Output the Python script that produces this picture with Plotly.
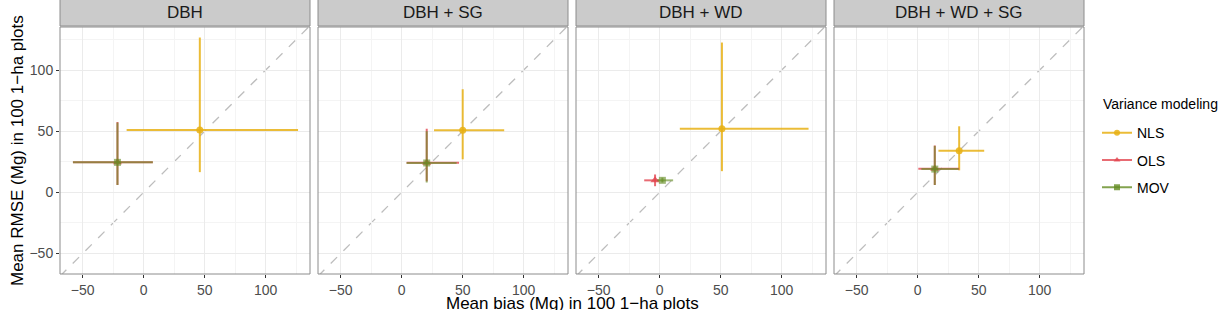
import plotly.graph_objects as go

# ---------------- data ----------------
panels = ["DBH", "DBH + SG", "DBH + WD", "DBH + WD + SG"]
methods = ["NLS", "OLS", "MOV"]

nls_bias = [46, 50, 51, 34]
nls_rmse = [51, 50.7, 52, 34]
nls_bias_lo = [-14, 26.5, 16.5, 17]
nls_bias_hi = [126.5, 84, 122, 54.5]
nls_rmse_lo = [16.5, 27, 17.3, 18]
nls_rmse_hi = [126.6, 84.3, 122.5, 54]

ols_bias = [-21.5, 20.5, -3.8, 14]
ols_rmse = [24.5, 24.2, 9.8, 19.3]
ols_bias_lo = [-58, 4, -12.7, 0.5]
ols_bias_hi = [7.5, 47, -0.5, 34]
ols_rmse_lo = [6, 9, 5, 6]
ols_rmse_hi = [57.5, 52, 14.6, 38.3]

mov_bias = [-21.5, 20.5, 2.2, 14]
mov_rmse = [24.5, 24, 9.8, 19]
mov_bias_lo = [-58, 4, -2, 3]
mov_bias_hi = [7.5, 45, 11, 33.5]
mov_rmse_lo = [6, 8, 8, 6]
mov_rmse_hi = [57, 50, 12, 38]

x_ticks = [-50, 0, 50, 100]
y_ticks = [-50, 0, 50, 100]
x_minor = [-25, 25, 75, 125]
y_minor = [-25, 25, 75, 125]

series = {
    "NLS": (nls_bias, nls_rmse, nls_bias_lo, nls_bias_hi, nls_rmse_lo, nls_rmse_hi),
    "OLS": (ols_bias, ols_rmse, ols_bias_lo, ols_bias_hi, ols_rmse_lo, ols_rmse_hi),
    "MOV": (mov_bias, mov_rmse, mov_bias_lo, mov_bias_hi, mov_rmse_lo, mov_rmse_hi),
}

# ---------------- styles ----------------
colors = {"NLS": "rgba(231,176,20,0.85)", "OLS": "rgba(226,70,80,0.8)", "MOV": "rgba(100,140,35,0.62)"}
legend_colors = {"NLS": "rgba(231,176,20,0.85)", "OLS": "rgba(226,70,80,0.8)", "MOV": "rgba(100,140,35,0.8)"}
symbols = {"NLS": "circle", "OLS": "triangle-up", "MOV": "square"}
XR = [-68.6, 136.3]
YR = [-66.8, 135.2]
FONT = "Liberation Sans, Arial, sans-serif"

W, H = 1227, 310
L, R, T, B = 60, 143, 27, 34
pw, gap = 250, 8
plot_w = W - L - R
plot_h = H - T - B

def py(pix):
    """pixel row -> paper y"""
    return (T + plot_h - pix) / plot_h

def px(pix):
    """pixel column -> paper x"""
    return (pix - L) / plot_w

fig = go.Figure()

def fmt(v):
    return str(v).replace("-", "\u2212")

for i, p in enumerate(panels):
    xa = "x" if i == 0 else f"x{i+1}"
    ya = "y" if i == 0 else f"y{i+1}"
    left = (i * (pw + gap)) / plot_w
    right = (i * (pw + gap) + pw) / plot_w
    axkey = "xaxis" if i == 0 else f"xaxis{i+1}"
    aykey = "yaxis" if i == 0 else f"yaxis{i+1}"
    fig.layout[axkey] = dict(
        domain=[left, right], range=XR, anchor=ya, tickvals=x_ticks,
        ticktext=[fmt(v) for v in x_ticks], showgrid=True, gridcolor="#ebebeb", gridwidth=1,
        zeroline=False, ticks="outside", ticklen=3, tickcolor="#333333",
        tickfont=dict(size=14, color="#4d4d4d", family=FONT),
        minor=dict(tickvals=x_minor, showgrid=True, gridcolor="#f4f4f4", gridwidth=0.5, ticks=""),
        showline=False, mirror=False,
    )
    fig.layout[aykey] = dict(
        domain=[0, 1], range=YR, anchor=xa, tickvals=y_ticks,
        ticktext=[fmt(v) for v in y_ticks], showgrid=True, gridcolor="#ebebeb", gridwidth=1,
        zeroline=False, ticks="outside" if i == 0 else "", ticklen=3, tickcolor="#333333",
        showticklabels=(i == 0),
        tickfont=dict(size=14, color="#4d4d4d", family=FONT),
        minor=dict(tickvals=y_minor, showgrid=True, gridcolor="#f4f4f4", gridwidth=0.5, ticks=""),
        showline=False,
    )
    # diagonal y = x
    fig.add_shape(type="line", xref=xa, yref=ya, x0=XR[0], y0=XR[0], x1=XR[1], y1=XR[1],
                  line=dict(color="#bdbdbd", width=1.3, dash="dash"), layer="below")
    # panel border
    fig.add_shape(type="rect", xref="paper", yref="paper", x0=left, x1=right, y0=0, y1=1,
                  line=dict(color="#8c8c8c", width=1), fillcolor="rgba(0,0,0,0)", layer="above")
    # strip
    fig.add_shape(type="rect", xref="paper", yref="paper", x0=left, x1=right,
                  y0=1 + 1 / plot_h, y1=1 + (T + 2) / plot_h,
                  line=dict(color="#8c8c8c", width=1), fillcolor="#cbcbcb")
    fig.add_annotation(text=p, xref="paper", yref="paper", x=(left + right) / 2,
                       y=1 + (T - 12) / plot_h, showarrow=False, xanchor="center", yanchor="middle",
                       font=dict(size=17, color="#1a1a1a", family=FONT))

    for m in methods:
        bx, ry, blo, bhi, rlo, rhi = series[m]
        fig.add_trace(go.Scatter(
            x=[bx[i]], y=[ry[i]], xaxis=xa, yaxis=ya, mode="markers",
            marker=dict(color=colors[m], size=7 if m != "OLS" else 8, symbol=symbols[m]),
            error_x=dict(type="data", symmetric=False, array=[bhi[i] - bx[i]],
                         arrayminus=[bx[i] - blo[i]], color=colors[m], thickness=2, width=0),
            error_y=dict(type="data", symmetric=False, array=[rhi[i] - ry[i]],
                         arrayminus=[ry[i] - rlo[i]], color=colors[m], thickness=2, width=0),
            showlegend=False, hoverinfo="skip",
        ))

# legend entries
for m in methods:
    fig.add_trace(go.Scatter(x=[None], y=[None], mode="lines+markers", name=m,
                             legendgroup=m,
                             line=dict(color=legend_colors[m], width=2),
                             marker=dict(color=legend_colors[m], size=6, symbol=symbols[m])))

fig.add_annotation(text="Variance modeling", xref="paper", yref="paper",
                   x=px(1101), y=py(105), showarrow=False, xanchor="left", yanchor="middle",
                   font=dict(size=14, color="#000000", family=FONT))
fig.add_annotation(text="Mean bias (Mg) in 100 1\u2212ha plots", xref="paper", yref="paper",
                   x=0.5, y=py(306), showarrow=False,
                   xanchor="center", yanchor="middle",
                   font=dict(size=17, color="#000000", family=FONT))
fig.add_annotation(text="Mean RMSE (Mg) in 100 1\u2212ha plots", xref="paper", yref="paper",
                   x=px(17.5), y=0.5, showarrow=False, textangle=-90,
                   xanchor="center", yanchor="middle",
                   font=dict(size=17, color="#000000", family=FONT))

fig.update_layout(
    width=W, height=H, margin=dict(l=L, r=R, t=T, b=B),
    paper_bgcolor="white", plot_bgcolor="white",
    font=dict(family=FONT),
    legend=dict(font=dict(size=14, color="#000000"), x=px(1097), y=py(118),
                xanchor="left", yanchor="top", tracegroupgap=6, itemwidth=30,
                bgcolor="rgba(0,0,0,0)"),
)

fig.write_html("out.html")
